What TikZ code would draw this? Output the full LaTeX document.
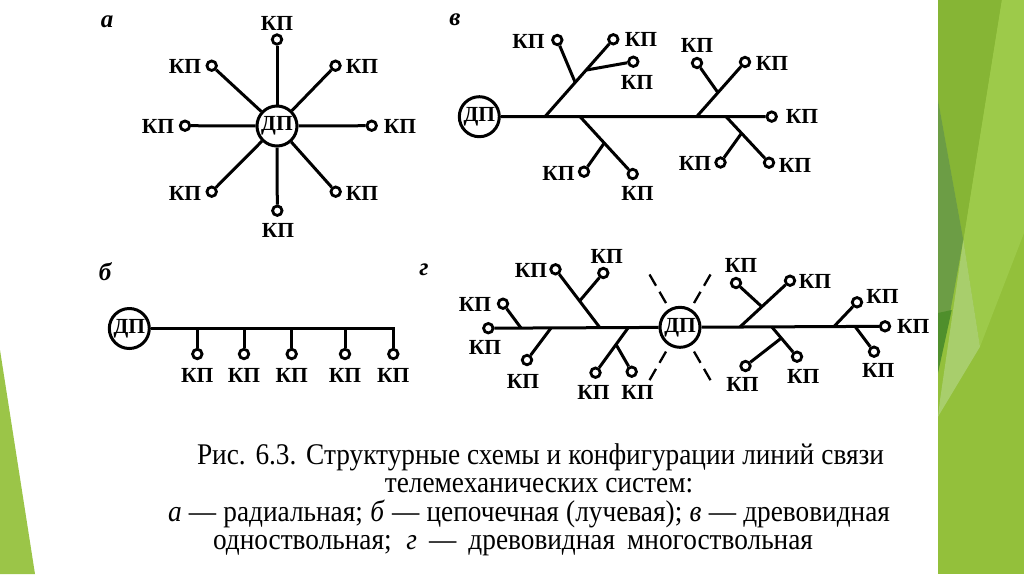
\documentclass[tikz,border=0pt]{standalone}
\usepackage{fontspec}
\setmainfont{Liberation Serif}
\newfontfamily\capfont[FakeStretch=0.91]{Liberation Serif}
\usepackage{tikz}
\usetikzlibrary{positioning}
\definecolor{bandgreen}{HTML}{93C03B}
\definecolor{bandlight}{HTML}{9DCA4A}
\definecolor{banddark}{HTML}{86B535}
\definecolor{bandshade}{HTML}{6C9D45}
\definecolor{banddeep}{HTML}{4F8F2C}
\definecolor{bandglow}{HTML}{A8CE6C}
\definecolor{cornergreen}{HTML}{9BC548}

\begin{document}
\begin{tikzpicture}[x=1pt, y=-1pt, line width=3pt,
    kp/.style={circle, draw, line width=2.8pt, fill=white, inner sep=0pt, minimum size=9.5pt},
    dp/.style={circle, draw, line width=3pt, fill=white, inner sep=0pt, minimum size=40pt, font=\fontsize{21.5}{21.5}\selectfont\bfseries},
    lbl/.style={inner sep=0pt, font=\fontsize{21.5}{21.5}\selectfont\bfseries},
    fig/.style={inner sep=0pt, font=\fontsize{25}{25}\selectfont\bfseries\itshape},
    captext/.style={inner sep=0pt, anchor=base, font=\capfont\fontsize{30}{30}\selectfont},
    ray/.style={dash pattern=on 13pt off 7pt, line width=2.3pt}]
  \fill[white] (0,0) rectangle (1024,574);
  \useasboundingbox (0,0) rectangle (1024,574);
  \fill[cornergreen] (0,350) -- (35,574) -- (0,574) -- cycle;
  \fill[bandgreen] (938,0) rectangle (1024,574);
  \fill[bandlight] (1001.7,0) -- (1024,0) -- (1024,233) -- (980,346.7) -- (963.3,240) -- cycle;
  \fill[banddark] (938,0) -- (1001.7,0) -- (963.3,240) -- (938,100) -- cycle;
  \fill[bandshade] (938,100) -- (963.3,240) -- (950,313) -- (938,320) -- cycle;
  \fill[banddeep] (938,313) -- (951.7,310) -- (938,373) -- cycle;
  \fill[bandglow] (963.3,240) -- (980,346.7) -- (938,416.7) -- (940,400) -- cycle;

  \node[fig] (fa) at (107,22) {а};
  \node[fig] (fb) at (105,272) {б};
  \node[fig] (fv) at (455,20) {в};
  \node[fig] (fg) at (424,270) {г};

  \node[dp] (a0) at (277,126) {ДП};
  \node[kp] (a1) at (277,39.5) {};
  \node[kp] (a2) at (335.5,65.7) {};
  \node[kp] (a3) at (371.7,125.7) {};
  \node[kp] (a4) at (335.7,191.7) {};
  \node[kp] (a5) at (277.3,210.7) {};
  \node[kp] (a6) at (211.7,191.7) {};
  \node[kp] (a7) at (185,125.7) {};
  \node[kp] (a8) at (211.7,65.7) {};
  \foreach \i in {1,...,8} \draw (a0) -- (a\i);
  \node[lbl] (al1) at (277,23) {КП};
  \node[lbl] (al2) at (362,66) {КП};
  \node[lbl] (al3) at (400,126) {КП};
  \node[lbl] (al4) at (362,193) {КП};
  \node[lbl] (al5) at (278,230) {КП};
  \node[lbl] (al6) at (185,193) {КП};
  \node[lbl] (al7) at (158,126) {КП};
  \node[lbl] (al8) at (185,66) {КП};

  \node[dp] (b0) at (129.3,328.5) {ДП};
  \foreach \x [count=\i] in {197.3,244,291.7,345,393.3} {
    \coordinate (bt\i) at (\x,328.5);
    \node[kp] (b\i) at (\x,354) {};
    \node[lbl] (bl\i) at (\x,375) {КП};
  }
  \draw (b0) -- (bt5) -- (b5);
  \foreach \i in {1,...,4} \draw (bt\i) -- (b\i);

  \node[dp] (v0) at (479.3,116.7) {ДП};
  \node[kp] (v1) at (771.7,116.6) {};
  \node[kp] (v11) at (613.3,39.3) {};
  \node[kp] (v12) at (557.3,40) {};
  \node[kp] (v13) at (633.3,61.7) {};
  \node[kp] (v21) at (632.7,174) {};
  \node[kp] (v22) at (584,171.7) {};
  \node[kp] (v31) at (745,62) {};
  \node[kp] (v32) at (697,63) {};
  \node[kp] (v41) at (769,162.7) {};
  \node[kp] (v42) at (720.5,162.5) {};
  \coordinate (vb1) at (545,116.6);
  \coordinate (vb2) at (580,116.6);
  \coordinate (vb3) at (696.7,116.6);
  \coordinate (vb4) at (726,116.6);
  \draw (v0) -- (v1);
  \draw (vb1) -- coordinate[pos=0.47] (vs1) coordinate[pos=0.64] (vs2) (v11);
  \draw (vs1) -- (v12);
  \draw (vs2) -- (v13);
  \draw (vb2) -- coordinate[pos=0.5] (vs3) (v21);
  \draw (vs3) -- (v22);
  \draw (vb3) -- coordinate[pos=0.48] (vs4) (v31);
  \draw (vs4) -- (v32);
  \draw (vb4) -- coordinate[pos=0.4] (vs5) (v41);
  \draw (vs5) -- (v42);
  \node[lbl] (vl1) at (802,116.6) {КП};
  \node[lbl] (vl11) at (641,39.5) {КП};
  \node[lbl] (vl12) at (528.5,41) {КП};
  \node[lbl] (vl13) at (637,82) {КП};
  \node[lbl] (vl21) at (637.5,193) {КП};
  \node[lbl] (vl22) at (558.5,173.5) {КП};
  \node[lbl] (vl31) at (772,63.5) {КП};
  \node[lbl] (vl32) at (697,45.5) {КП};
  \node[lbl] (vl41) at (795,165) {КП};
  \node[lbl] (vl42) at (695,163) {КП};

  \node[dp] (g0) at (680,327.3) {ДП};
  \node[kp] (gl) at (488.3,328.2) {};
  \node[kp] (gr) at (885,326.3) {};
  \draw (gl) -- (g0) -- (gr);
  \foreach \a in {-120,-60,60,120}
    \draw[ray] ([shift={(\a:28)}]g0.center) -- ([shift={(\a:62)}]g0.center);
  \node[kp] (g1) at (503,303.7) {};
  \node[kp] (g2) at (527,360) {};
  \node[kp] (g3) at (555.5,269.3) {};
  \node[kp] (g4) at (603.3,273) {};
  \node[kp] (g5) at (595.5,372.7) {};
  \node[kp] (g6) at (631.7,371.7) {};
  \node[kp] (g7) at (790,280.7) {};
  \node[kp] (g8) at (736,283) {};
  \node[kp] (g9) at (797,356.7) {};
  \node[kp] (g10) at (745.5,366) {};
  \node[kp] (g11) at (857,302.3) {};
  \node[kp] (g12) at (874,351.7) {};
  \coordinate (gb1) at (521,328);
  \coordinate (gb2) at (551,328);
  \coordinate (gb3) at (600,327.8);
  \coordinate (gb4) at (628.3,327.6);
  \coordinate (gb5) at (740,326.9);
  \coordinate (gb6) at (771.7,326.8);
  \coordinate (gb7) at (834,326.5);
  \coordinate (gb8) at (855,326.4);
  \draw (gb1) -- (g1);
  \draw (gb2) -- (g2);
  \draw (gb3) -- coordinate[pos=0.5] (gs1) (g3);
  \draw (gs1) -- (g4);
  \draw (gb4) -- coordinate[pos=0.42] (gs2) (g5);
  \draw (gs2) -- (g6);
  \draw (gb5) -- coordinate[pos=0.48] (gs3) (g7);
  \draw (gs3) -- (g8);
  \draw (gb6) -- coordinate[pos=0.45] (gs4) (g9);
  \draw (gs4) -- (g10);
  \draw (gb7) -- (g11);
  \draw (gb8) -- (g12);
  \node[lbl] (gll) at (485,347) {КП};
  \node[lbl] (grl) at (913.3,326.3) {КП};
  \node[lbl] (gl1) at (475,304.5) {КП};
  \node[lbl] (gl2) at (523,381) {КП};
  \node[lbl] (gl3) at (531,270.5) {КП};
  \node[lbl] (gl4) at (606.7,256) {КП};
  \node[lbl] (gl5) at (593.5,392.5) {КП};
  \node[lbl] (gl6) at (637.5,392.5) {КП};
  \node[lbl] (gl7) at (815,281.2) {КП};
  \node[lbl] (gl8) at (741,265) {КП};
  \node[lbl] (gl9) at (803.3,376) {КП};
  \node[lbl] (gl10) at (742.5,384) {КП};
  \node[lbl] (gl11) at (882.5,296.7) {КП};
  \node[lbl] (gl12) at (878.3,370.3) {КП};

  \node[captext] (c1) at (540.5,464) {\makebox[687pt][s]{Рис. 6.3. Структурные схемы и конфигурации линий связи}};
  \node[captext] (c2) at (539,492) {телемеханических систем:};
  \node[captext] (c3) at (529,521) {\makebox[722pt][s]{\textit{а} — радиальная; \textit{б} — цепочечная (лучевая); \textit{в} — древовидная}};
  \node[captext] (c4) at (513,549) {\makebox[600pt][s]{одноствольная; \textit{г} — древовидная многоствольная}};
\end{tikzpicture}
\end{document}
